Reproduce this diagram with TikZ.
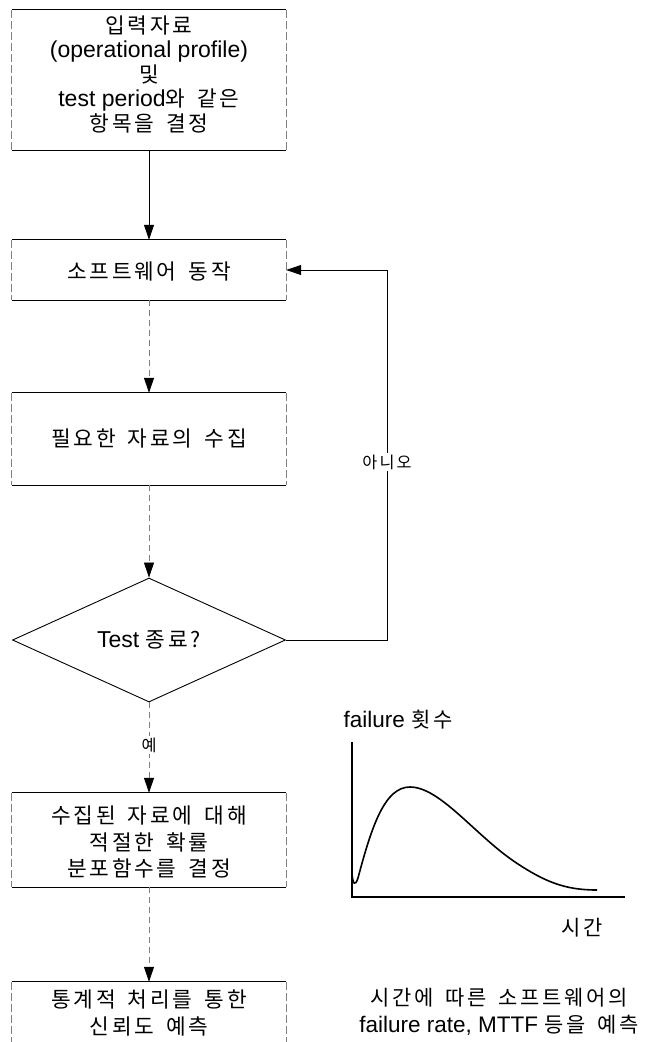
\documentclass[tikz,border=0pt]{standalone}
\usepackage{fontspec}
\setmainfont{Liberation Sans}
\newfontfamily\kr{Noto Sans CJK KR}[Scale=0.93,LetterSpace=13,WordSpace=1.6]
\usetikzlibrary{arrows.meta,shapes.geometric}
\tikzset{
  boxshape/.style={draw=none, minimum width=274pt, inner sep=0pt},
  txt/.style={align=center, font=\fontsize{23}{26.5}\selectfont, inner sep=0pt},
  lab/.style={font=\fontsize{17.5}{20}\selectfont, fill=white, inner sep=2pt},
  gtxt/.style={align=center, font=\fontsize{22.5}{27}\selectfont, inner sep=0pt},
  edgeline/.style={line width=0.9pt, black},
  sideline/.style={line width=0.7pt, gray, dash pattern=on 8pt off 3pt},
  arr/.style={line width=0.8pt, -{Triangle[width=10pt,length=15pt,color=black]}},
  arrd/.style={arr, gray, dash pattern=on 6pt off 4pt},
  decision/.style={draw, line width=0.9pt, shape=diamond, aspect=2.2, minimum width=273pt, minimum height=124pt, inner sep=0pt},
  axis/.style={line width=1.5pt, black},
  curve/.style={line width=1.6pt, black}
}
\begin{document}
\begin{tikzpicture}[x=1pt,y=-1pt]
\useasboundingbox (0,0) rectangle (651,1042);
% boxes
\node[boxshape, minimum height=140pt] (b1) at (149,80) {};
\node[boxshape, minimum height=60pt] (b2) at (149,270) {};
\node[boxshape, minimum height=92pt] (b3) at (149,439) {};
\node[decision] (d) at (149,640) {};
\node[boxshape, minimum height=94pt] (b4) at (149,840) {};
\node[boxshape, minimum height=60pt] (b5) at (149,1012) {};
\foreach \b in {b1,b2,b3,b4}{
  \draw[edgeline] (\b.north west) -- (\b.north east);
  \draw[edgeline] (\b.south west) -- (\b.south east);
  \draw[sideline] (\b.north west) -- (\b.south west);
  \draw[sideline] (\b.north east) -- (\b.south east);
}
\draw[edgeline] (b5.north west) -- (b5.north east);
\draw[sideline] (b5.north west) -- (b5.south west);
\draw[sideline] (b5.north east) -- (b5.south east);
% texts
\node[txt, font=\fontsize{23}{24.5}\selectfont] (t1) at (149,74) {{\kr 입력자료}\\(operational profile)\\{\kr 및}\\test period{\kr 와 같은}\\{\kr 항목을 결정}};
\node[txt] (t2) at (149,271) {{\kr 소프트웨어 동작}};
\node[txt] (t3) at (149,438) {{\kr 필요한 자료의 수집}};
\node[txt] (td) at (149,640) {Test {\kr 종료?}};
\node[txt] (t4) at (149,842) {{\kr 수집된 자료에 대해}\\{\kr 적절한 확률}\\{\kr 분포함수를 결정}};
\node[txt] (t5) at (149,1013) {{\kr 통계적 처리를 통한}\\{\kr 신뢰도 예측}};
% connectors
\draw[arr] (b1.south) -- (b2.north);
\draw[arrd] (b2.south) -- (b3.north);
\draw[arrd] (b3.south) -- (d.north);
\draw[arrd] (d.south) -- (b4.north);
\draw[arrd] (b4.south) -- (b5.north);
\coordinate (fb) at (387,640);
\draw[arr] (d.east) -- (fb) |- (b2.east);
\node[lab] (no) at (387,462) {\kr 아니오};
\node[lab] (yes) at (149,745) {\kr 예};
% graph
\draw[axis] (352,742) -- (352,897) -- (625,897);
\draw[curve] (352,874) .. controls (353,884) and (355,887) .. (358,878) .. controls (372,825) and (385,787) .. (410,787) .. controls (440,787) and (475,835) .. (515,862) .. controls (545,882) and (565,890) .. (597,890);
\node[gtxt] (ylab) at (398,720) {failure {\kr 횟수}};
\node[gtxt] (xlab) at (582,928) {\kr 시간};
\node[gtxt] (cap) at (499,1012) {{\kr 시간에 따른 소프트웨어의}\\failure rate, MTTF {\kr 등을 예측}};
\end{tikzpicture}
\end{document}
